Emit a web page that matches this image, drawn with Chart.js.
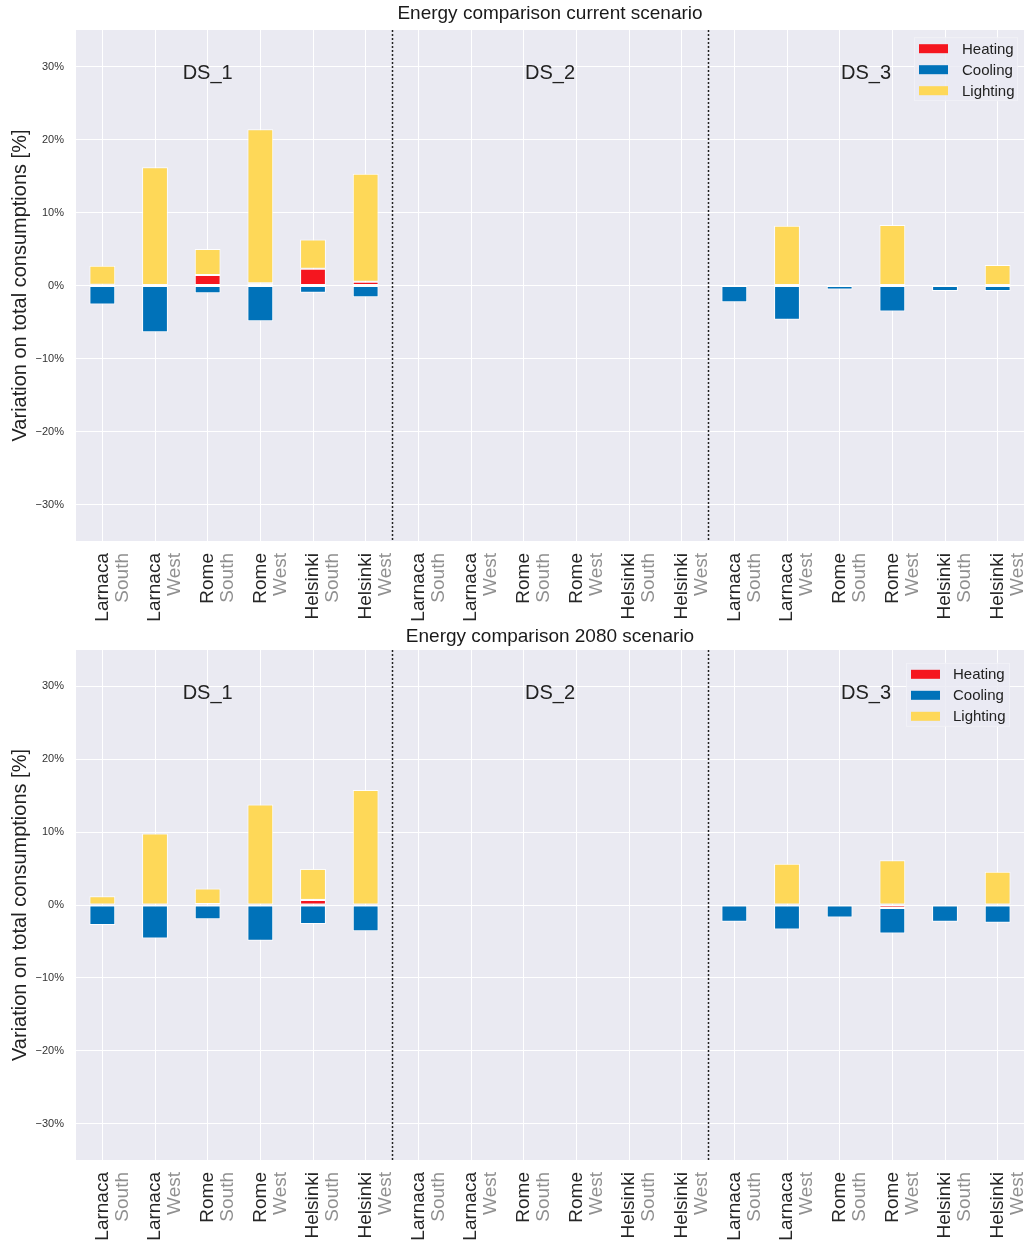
<!DOCTYPE html>
<html>
<head>
<meta charset="utf-8">
<script src="https://cdn.jsdelivr.net/npm/chart.js@4.4.1/dist/chart.umd.min.js"></script>
<style>
  body { margin: 0; background: #fff; }
  .box { position: relative; width: 1029px; height: 623px; }
</style>
</head>
<body>
<div class="box"><canvas id="chartNow"></canvas></div>
<div class="box"><canvas id="chart2080"></canvas></div>
<script>
// categories
const cities = ['Larnaca', 'Larnaca', 'Rome', 'Rome', 'Helsinki', 'Helsinki',
                'Larnaca', 'Larnaca', 'Rome', 'Rome', 'Helsinki', 'Helsinki',
                'Larnaca', 'Larnaca', 'Rome', 'Rome', 'Helsinki', 'Helsinki'];
const orient = ['South', 'West', 'South', 'West', 'South', 'West',
                'South', 'West', 'South', 'West', 'South', 'West',
                'South', 'West', 'South', 'West', 'South', 'West'];
const groupNames = ['DS_1', 'DS_2', 'DS_3'];
const yTicks = [-30, -20, -10, 0, 10, 20, 30];

// current scenario [%]
const heatingNow  = [0.1, 0, 1.45, 0.3, 2.3, 0.5,  0, 0, 0, 0, 0, 0,  0, 0, 0, 0, 0, 0];
const coolingNow  = [-2.6, -6.4, -1.05, -4.9, -1.0, -1.6,  0, 0, 0, 0, 0, 0,  -2.3, -4.7, -0.55, -3.55, -0.75, -0.75];
const lightingNow = [2.6, 16.2, 3.55, 21.1, 4.0, 14.8,  0, 0, 0, 0, 0, 0,  0, 8.2, 0, 8.3, 0, 2.8];

// 2080 scenario [%]
const heating2080  = [0, 0, 0.15, 0, 0.7, 0,  0, 0, 0, 0, 0, 0,  0, 0, 0, -0.4, 0, 0];
const cooling2080  = [-2.75, -4.6, -1.95, -4.9, -2.6, -3.6,  0, 0, 0, 0, 0, 0,  -2.3, -3.35, -1.7, -3.5, -2.3, -2.45];
const lighting2080 = [1.2, 9.8, 2.1, 13.8, 4.25, 15.8,  0, 0, 0, 0, 0, 0,  0, 5.65, 0, 6.15, 0, 4.55];

// where the group labels and dotted separators sit (category index units)
const groupAt = [2, 8.5, 14.5];
const separators = [5.5, 11.5];

const FONT = "'Liberation Sans', Arial, sans-serif";
Chart.defaults.font.family = FONT;

const scenery = {
  id: 'scenery',
  beforeDraw(chart) {
    const a = chart.chartArea, ctx = chart.ctx;
    ctx.save();
    ctx.fillStyle = '#EAEAF2';
    ctx.fillRect(a.left, a.top, a.right - a.left, a.bottom - a.top);
    ctx.restore();
  },
  afterDatasetsDraw(chart) {
    const a = chart.chartArea, ctx = chart.ctx, x = chart.scales.x;
    ctx.save();
    ctx.strokeStyle = '#222';
    ctx.lineWidth = 1.5;
    ctx.setLineDash([2, 2]);
    separators.forEach(v => {
      const px = Math.round(x.getPixelForValue(v)) + 0.5;
      ctx.beginPath();
      ctx.moveTo(px, a.top);
      ctx.lineTo(px, a.bottom);
      ctx.stroke();
    });
    ctx.restore();
  },
  afterDraw(chart, args, opts) {
    const a = chart.chartArea, ctx = chart.ctx, x = chart.scales.x, y = chart.scales.y;
    ctx.save();
    // group labels
    ctx.font = '20px ' + FONT;
    ctx.fillStyle = '#222';
    ctx.textAlign = 'center';
    ctx.textBaseline = 'middle';
    groupNames.forEach((g, i) => ctx.fillText(g, x.getPixelForValue(groupAt[i]), y.getPixelForValue(29)));

    // rotated two-line tick labels
    ctx.font = '19px ' + FONT;
    ctx.textAlign = 'right';
    cities.forEach((c, i) => {
      ctx.save();
      ctx.translate(x.getPixelForValue(i), a.bottom + 12);
      ctx.rotate(-Math.PI / 2);
      ctx.fillStyle = '#262626';
      ctx.fillText(c, 0, 0);
      ctx.fillStyle = '#8f8f8f';
      ctx.fillText(orient[i], 0, 20);
      ctx.restore();
    });

    // legend inside the plot
    const lx = a.right + opts.legendDx, ly = a.top + opts.legendDy;
    ctx.fillStyle = 'rgba(234,234,242,0.8)';
    ctx.strokeStyle = 'rgba(255,255,255,0.35)';
    ctx.lineWidth = 1;
    ctx.fillRect(lx - 5, ly - 11.5, 104, 64);
    ctx.strokeRect(lx - 5 + 0.5, ly - 11.5 + 0.5, 103, 63);
    ctx.font = '15px ' + FONT;
    ctx.textAlign = 'left';
    chart.data.datasets.forEach((ds, k) => {
      const cy = ly + k * 21;
      ctx.fillStyle = ds.backgroundColor;
      ctx.fillRect(lx, cy - 4.5, 29, 9);
      ctx.fillStyle = '#222';
      ctx.fillText(ds.label, lx + 29 + opts.legendGap, cy + 1);
    });
    ctx.restore();
  }
};

function makeChart(id, title, heating, cooling, lighting, lay) {
  const bar = { borderColor: 'rgba(255,255,255,0.9)', borderWidth: 1, borderSkipped: false,
                barPercentage: 0.49, categoryPercentage: 1 };
  return new Chart(document.getElementById(id), {
    type: 'bar',
    data: {
      labels: cities.map((c, i) => c + ' ' + orient[i]),
      datasets: [
        Object.assign({ label: 'Heating', data: heating, backgroundColor: '#F5161F' }, bar),
        Object.assign({ label: 'Cooling', data: cooling, backgroundColor: '#0072B9' }, bar),
        Object.assign({ label: 'Lighting', data: lighting, backgroundColor: '#FED858' }, bar)
      ]
    },
    options: {
      responsive: true,
      maintainAspectRatio: false,
      animation: false,
      layout: { padding: { left: 0, right: 5, top: 0, bottom: 0 } },
      plugins: {
        legend: { display: false },
        tooltip: { enabled: false },
        title: {
          display: true, text: title, color: '#1a1a1a', fullSize: false,
          font: { size: 19, weight: 'normal', lineHeight: 1.2 },
          padding: lay.titlePad
        },
        scenery: lay
      },
      scales: {
        x: {
          stacked: true,
          offset: true,
          grid: { offset: false, color: '#ffffff', lineWidth: 1, drawTicks: false },
          border: { display: false },
          ticks: { display: false },
          afterFit(s) { s.height = lay.xHeight; }
        },
        y: {
          stacked: true,
          min: -35, max: 35,
          afterBuildTicks(s) { s.ticks = yTicks.map(v => ({ value: v })); },
          grid: { color: '#ffffff', lineWidth: 1, drawTicks: false },
          border: { display: false },
          ticks: {
            padding: 12, color: '#333',
            font: { size: 11 },
            callback: v => (v < 0 ? '\u2212' + Math.abs(v) : v) + '%'
          },
          title: {
            display: true, text: 'Variation on total consumptions [%]', color: '#222',
            font: { size: 20, lineHeight: 1.2 }, padding: { top: 8, bottom: 0 }
          },
          afterFit(s) { s.width = 76; }
        }
      }
    },
    plugins: [scenery]
  });
}

makeChart('chartNow', 'Energy comparison current scenario', heatingNow, coolingNow, lightingNow,
  { titlePad: { top: 2, bottom: 5.2 }, xHeight: 82, legendDx: -105, legendDy: 18.7, legendGap: 14 });
makeChart('chart2080', 'Energy comparison 2080 scenario', heating2080, cooling2080, lighting2080,
  { titlePad: { top: 2.6, bottom: 1.6 }, xHeight: 86, legendDx: -113, legendDy: 24.3, legendGap: 13 });
</script>
</body>
</html>
